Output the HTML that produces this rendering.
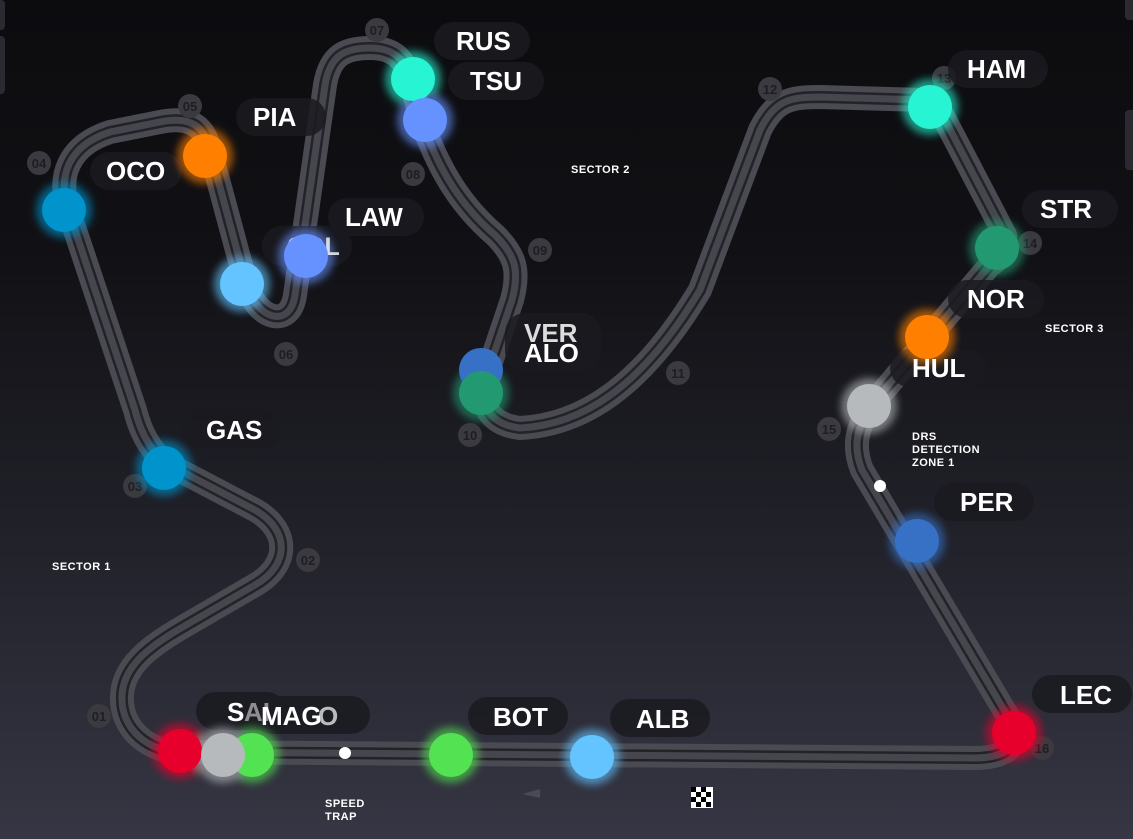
<!DOCTYPE html>
<html><head><meta charset="utf-8"><style>
html,body{margin:0;padding:0;}
body{width:1133px;height:839px;overflow:hidden;background:linear-gradient(180deg,#0c0c0f 0%,#111115 30%,#1f1f27 60%,#363644 100%);font-family:"Liberation Sans",sans-serif;}
svg{position:absolute;left:0;top:0;}
</style></head><body>
<svg width="1133" height="839" viewBox="0 0 1133 839">
<defs>
<path id="trk" d="M180,752 C150,752 120,730 122,695 C124,660 160,640 200,617 L255,585 C290,565 290,530 255,510 L175,468 C150,455 140,430 135,410 L70,215 C55,175 70,145 110,132 L160,122 C195,115 205,130 210,150 L245,280 C255,320 290,330 295,295 L325,85 C330,55 345,48 370,48 C395,48 405,60 410,80 L425,130 C440,170 460,205 495,235 C515,255 520,270 512,300 L485,380 C478,410 495,425 520,428 C580,425 640,390 700,290 L760,130 C775,100 790,97 820,97 L925,100 C935,102 940,110 945,120 L1005,235 C1008,245 1000,260 990,265 L880,395 C860,420 850,440 862,470 L1010,720 C1025,745 1005,758 975,758 L180,752 Z"/>
<filter id="gl" x="-50%" y="-50%" width="200%" height="200%"><feGaussianBlur stdDeviation="4"/></filter>
</defs>
<use href="#trk" fill="none" stroke="#4a4a52" stroke-width="24" stroke-linejoin="round"/>
<use href="#trk" fill="none" stroke="#222227" stroke-width="12"/>
<use href="#trk" fill="none" stroke="#46464e" stroke-width="7"/>
<g font-size="13" font-weight="bold" text-anchor="middle">
<g fill="#3a3a40">
<circle cx="99" cy="716" r="12"/><circle cx="308" cy="560" r="12"/><circle cx="135" cy="486" r="12"/><circle cx="39" cy="163" r="12"/><circle cx="190" cy="106" r="12"/><circle cx="286" cy="354" r="12"/><circle cx="377" cy="30" r="12"/><circle cx="413" cy="174" r="12"/><circle cx="540" cy="250" r="12"/><circle cx="470" cy="435" r="12"/><circle cx="678" cy="373" r="12"/><circle cx="770" cy="89" r="12"/><circle cx="944" cy="78" r="12"/><circle cx="1030" cy="243" r="12"/><circle cx="829" cy="429" r="12"/><circle cx="1042" cy="748" r="12"/>
</g>
<g fill="#1e1e22">
<text x="99" y="721">01</text><text x="308" y="565">02</text><text x="135" y="491">03</text><text x="39" y="168">04</text><text x="190" y="111">05</text><text x="286" y="359">06</text><text x="377" y="35">07</text><text x="413" y="179">08</text><text x="540" y="255">09</text><text x="470" y="440">10</text><text x="678" y="378">11</text><text x="770" y="94">12</text><text x="944" y="83">13</text><text x="1030" y="248">14</text><text x="829" y="434">15</text><text x="1042" y="753">16</text>
</g></g>
<g fill="#1a1a20" opacity="0.85">
<rect x="90" y="152" width="92" height="38" rx="19"/><rect x="236" y="98" width="90" height="38" rx="19"/><rect x="262" y="226" width="90" height="40" rx="20"/><rect x="328" y="198" width="96" height="38" rx="19"/>
<rect x="434" y="22" width="96" height="38" rx="19"/><rect x="448" y="62" width="96" height="38" rx="19"/><rect x="505" y="313" width="96" height="58" rx="20"/>
<rect x="948" y="50" width="100" height="38" rx="19"/><rect x="1022" y="190" width="96" height="38" rx="19"/><rect x="948" y="280" width="96" height="38" rx="19"/><rect x="890" y="349" width="96" height="38" rx="19"/><rect x="934" y="483" width="100" height="38" rx="19"/><rect x="1032" y="675" width="100" height="38" rx="19"/>
<rect x="181" y="410" width="100" height="38" rx="19"/><rect x="196" y="692" width="90" height="38" rx="19"/><rect x="252" y="696" width="118" height="38" rx="19"/><rect x="468" y="697" width="100" height="38" rx="19"/><rect x="610" y="699" width="100" height="38" rx="19"/>
</g>
<g>
<g filter="url(#gl)" opacity="0.6">
<circle cx="64" cy="210" r="28" fill="#0093cc"/><circle cx="205" cy="156" r="28" fill="#ff8000"/><circle cx="242" cy="284" r="28" fill="#64c4ff"/><circle cx="306" cy="256" r="28" fill="#6692ff"/><circle cx="413" cy="79" r="28" fill="#27f4d2"/><circle cx="425" cy="120" r="28" fill="#6692ff"/><circle cx="481" cy="393" r="28" fill="#229971"/><circle cx="930" cy="107" r="28" fill="#27f4d2"/><circle cx="997" cy="248" r="28" fill="#229971"/><circle cx="927" cy="337" r="28" fill="#ff8000"/><circle cx="869" cy="406" r="28" fill="#b6babd"/><circle cx="917" cy="541" r="28" fill="#3671c6"/><circle cx="1014" cy="733" r="28" fill="#e8002d"/><circle cx="164" cy="468" r="28" fill="#0093cc"/><circle cx="180" cy="751" r="28" fill="#e8002d"/><circle cx="252" cy="755" r="28" fill="#52e252"/><circle cx="223" cy="755" r="28" fill="#b6babd"/><circle cx="451" cy="755" r="28" fill="#52e252"/><circle cx="592" cy="757" r="28" fill="#64c4ff"/>
</g>
<circle cx="64" cy="210" r="22" fill="#0093cc"/><circle cx="205" cy="156" r="22" fill="#ff8000"/><circle cx="242" cy="284" r="22" fill="#64c4ff"/>
<text x="287" y="255" font-size="25" font-weight="bold" fill="#fff" opacity="0.8">COL</text>
<circle cx="306" cy="256" r="22" fill="#6692ff"/><circle cx="413" cy="79" r="22" fill="#27f4d2"/><circle cx="425" cy="120" r="22" fill="#6692ff"/>
<circle cx="481" cy="370" r="22" fill="#3671c6"/><circle cx="481" cy="393" r="22" fill="#229971"/>
<circle cx="930" cy="107" r="22" fill="#27f4d2"/><circle cx="997" cy="248" r="22" fill="#229971"/><circle cx="927" cy="337" r="22" fill="#ff8000"/><circle cx="869" cy="406" r="22" fill="#b6babd"/><circle cx="917" cy="541" r="22" fill="#3671c6"/><circle cx="1014" cy="733" r="22" fill="#e8002d"/><circle cx="164" cy="468" r="22" fill="#0093cc"/>
<circle cx="180" cy="751" r="22" fill="#e8002d"/><circle cx="252" cy="755" r="22" fill="#52e252"/><circle cx="223" cy="755" r="22" fill="#b6babd"/><circle cx="451" cy="755" r="22" fill="#52e252"/><circle cx="592" cy="757" r="22" fill="#64c4ff"/>
<circle cx="880" cy="486" r="6" fill="#fff"/><circle cx="345" cy="753" r="6" fill="#fff"/>
</g>
<g font-size="26" font-weight="bold" fill="#fff">
<text x="106" y="180">OCO</text><text x="253" y="126">PIA</text><text x="345" y="226">LAW</text><text x="456" y="50">RUS</text><text x="470" y="90">TSU</text>
<text x="524" y="342" opacity="0.85">VER</text><text x="524" y="362">ALO</text>
<text x="967" y="78">HAM</text><text x="1040" y="218">STR</text><text x="967" y="308">NOR</text><text x="912" y="377">HUL</text><text x="960" y="511">PER</text><text x="1060" y="704">LEC</text>
<text x="206" y="439">GAS</text><text x="227" y="721">S</text><text x="244" y="721" opacity="0.5">AI</text><text x="261" y="725">MAG</text><text x="318" y="725" opacity="0.7">O</text><text x="493" y="726">BOT</text><text x="636" y="728">ALB</text>
</g>
<g font-size="11" font-weight="bold" fill="#fff" letter-spacing="0.5">
<text x="571" y="173">SECTOR 2</text><text x="52" y="570">SECTOR 1</text><text x="1045" y="332">SECTOR 3</text>
<text x="912" y="440">DRS</text><text x="912" y="453">DETECTION</text><text x="912" y="466">ZONE 1</text>
<text x="325" y="807">SPEED</text><text x="325" y="820">TRAP</text>
</g>
<polygon points="522,794 540,789 540,798" fill="#4a4a55"/>
<g fill="#fff"><rect x="691" y="787" width="22" height="21"/></g>
<g fill="#000"><rect x="691" y="787" width="5" height="5"/><rect x="701" y="787" width="5" height="5"/><rect x="696" y="792" width="5" height="5"/><rect x="706" y="792" width="5" height="5"/><rect x="691" y="797" width="5" height="5"/><rect x="701" y="797" width="5" height="5"/><rect x="696" y="802" width="5" height="5"/><rect x="706" y="802" width="5" height="5"/></g>
<rect x="-4" y="0" width="9" height="30" rx="4" fill="#2a2a30"/><rect x="-4" y="36" width="9" height="58" rx="4" fill="#2a2a30"/>
<rect x="1125" y="-5" width="12" height="25" rx="4" fill="#2a2a30"/><rect x="1125" y="110" width="12" height="60" rx="4" fill="#2a2a30"/>
</svg>
</body></html>
